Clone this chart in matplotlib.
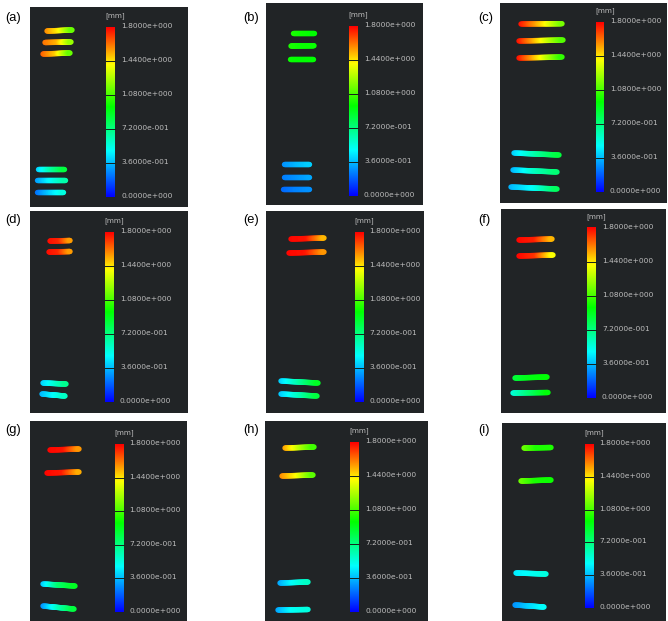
import numpy as np
import matplotlib
matplotlib.use("Agg")
import matplotlib.pyplot as plt
from matplotlib.collections import LineCollection
from matplotlib.colors import LinearSegmentedColormap, Normalize

W, H = 668, 621
tick_values = [0.0, 0.36, 0.72, 1.08, 1.44, 1.8]
tick_labels = ["0.0000e+000", "3.6000e-001", "7.2000e-001",
               "1.0800e+000", "1.4400e+000", "1.8000e+000"]
panel_names = ["(a)", "(b)", "(c)", "(d)", "(e)", "(f)", "(g)", "(h)", "(i)"]

# stroke extents: x start, x end, y start, y end
a_pos = [(47, 72, 31, 30), (45, 71, 42.5, 42), (43, 70, 54, 53), (38, 64, 169, 169), (37, 65, 180, 180), (37, 63, 192, 192)]
b_pos = [(293, 314, 33, 33), (291, 314, 46, 45.7), (290, 313, 59, 59), (284, 309, 164, 164), (284, 309, 177, 177), (283, 309, 189, 189)]
c_pos = [(521, 562, 24, 23.7), (519, 563, 41, 40), (519, 562, 58, 57), (514, 559, 153, 155), (513, 557, 170, 172), (511, 557, 187, 189)]
d_pos = [(50, 70, 241, 240.5), (49, 70, 252, 251.5), (43, 66, 383, 384), (42, 65, 394, 396)]
e_pos = [(291, 324, 239, 238), (289, 324, 253, 252), (281, 318, 381, 383), (281, 317, 394, 396)]
f_pos = [(519, 552, 240, 239), (519, 553, 256, 255), (515, 547, 378, 377), (513, 548, 393, 392.5)]
g_pos = [(50, 79, 450, 449), (47, 79, 473, 472), (43, 75, 584, 586), (43, 74, 606, 609)]
h_pos = [(285, 314, 448, 447), (282, 313, 476, 475), (280, 308, 583, 582), (278, 308, 610, 609.5)]
i_pos = [(524, 551, 448, 447.5), (521, 551, 481, 480), (516, 546, 573, 574), (515, 544, 605, 607)]

# deformation [mm] along each stroke (start, middle, end)
a_val = [(1.58, 1.42, 1.12), (1.62, 1.52, 1.2), (1.65, 1.48, 1.12), (0.4, 0.65, 0.85), (0.3, 0.5, 0.65), (0.22, 0.4, 0.55)]
b_val = [(1.0, 0.97, 0.95), (1.0, 0.97, 0.97), (0.97, 0.95, 0.95), (0.28, 0.35, 0.4), (0.24, 0.28, 0.32), (0.2, 0.25, 0.28)]
c_val = [(1.77, 1.48, 1.15), (1.77, 1.42, 1.08), (1.77, 1.42, 1.02), (0.4, 0.65, 0.85), (0.35, 0.6, 0.75), (0.35, 0.5, 0.8)]
d_val = [(1.78, 1.74, 1.55), (1.78, 1.74, 1.55), (0.4, 0.55, 0.7), (0.35, 0.48, 0.6)]
e_val = [(1.79, 1.77, 1.5), (1.79, 1.77, 1.55), (0.4, 0.65, 0.9), (0.38, 0.6, 0.85)]
f_val = [(1.79, 1.75, 1.5), (1.79, 1.72, 1.38), (0.85, 0.92, 0.95), (0.55, 0.75, 0.95)]
g_val = [(1.79, 1.77, 1.55), (1.79, 1.76, 1.52), (0.38, 0.75, 0.9), (0.28, 0.6, 0.85)]
h_val = [(1.55, 1.3, 1.05), (1.58, 1.4, 1.1), (0.32, 0.5, 0.6), (0.32, 0.5, 0.55)]
i_val = [(1.15, 1.0, 1.0), (1.15, 1.0, 0.97), (0.45, 0.5, 0.55), (0.28, 0.4, 0.5)]

positions = [a_pos, b_pos, c_pos, d_pos, e_pos, f_pos, g_pos, h_pos, i_pos]
values = [a_val, b_val, c_val, d_val, e_val, f_val, g_val, h_val, i_val]

# layout in pixels: panel (x0, x1, y0, y1), bar (x0, x1, y_top, y_bottom), label x, name (x, y)
panel_box = [(30, 188, 7, 207), (266, 423, 3, 205), (500, 667, 3, 203),
             (30, 188, 211, 413), (266, 424, 211, 413), (501, 666, 209, 413),
             (30, 187, 421, 621), (265, 428, 421, 621), (502, 666, 423, 621)]
bar_box = [(106, 115, 27, 197), (349, 358, 26, 196), (596, 604, 22, 192),
           (105, 114, 232, 402), (354.5, 363.5, 232, 402), (587, 596, 228, 398),
           (115, 124, 444, 612), (350, 359, 442, 612), (584.5, 593, 444, 608)]
label_x = [121, 364, 610, 120, 369, 602, 129, 365, 599.5]
name_xy = [(5, 18), (243, 18), (478, 18), (5, 220), (243, 220), (478, 220),
           (5, 430), (243, 430), (478, 430)]

cmap = LinearSegmentedColormap.from_list(
    "fem", [(0.0, "#0000ff"), (0.27, "#00ffff"), (0.53, "#00ff00"),
            (0.78, "#ffff00"), (1.0, "#ff0000")])
norm = Normalize(0, 1.8)
BG = "#212426"
TXT = "#bdbdbd"

fig = plt.figure(figsize=(W / 100, H / 100), dpi=100, facecolor="white")

for k, name in enumerate(panel_names):
    x0, x1, y0, y1 = panel_box[k]
    ax = fig.add_axes([x0 / W, 1 - y1 / H, (x1 - x0) / W, (y1 - y0) / H])
    ax.set_facecolor(BG)
    ax.set_xlim(x0, x1)
    ax.set_ylim(y1, y0)
    ax.set_xticks([])
    ax.set_yticks([])
    for s in ax.spines.values():
        s.set_visible(False)

    # colour scale
    bx0, bx1, bt, bb = bar_box[k]
    grad = np.linspace(1.8, 0, 256).reshape(-1, 1)
    ax.imshow(grad, cmap=cmap, norm=norm, extent=(bx0, bx1, bb, bt),
              aspect="auto", interpolation="bilinear", zorder=2)
    to_y = lambda v: bb + (bt - bb) * v / 1.8
    for v, lab in zip(tick_values, tick_labels):
        if 0 < v < 1.8:
            ax.plot([bx0, bx1], [to_y(v)] * 2, color="#14201a", lw=0.7, zorder=3)
        ax.text(label_x[k], to_y(v) - 1, lab, color=TXT, fontsize=5.4,
                va="center", ha="left", family="DejaVu Sans")
    ax.text(bx0 - 0.5, bt - 11, "[mm]", color=TXT, fontsize=5.2,
            va="center", ha="left", family="DejaVu Sans")

    # measured strokes, coloured along their length
    for (xa, xb, ya, yb), v in zip(positions[k], values[k]):
        t = np.linspace(0, 1, 40)
        xs = xa + (xb - xa) * t
        ys = ya + (yb - ya) * t
        vs = np.interp(t, [0, 0.5, 1], v)
        pts = np.column_stack([xs, ys]).reshape(-1, 1, 2)
        segs = np.concatenate([pts[:-1], pts[1:]], axis=1)
        lc = LineCollection(segs, cmap=cmap, norm=norm, linewidths=3.9,
                            capstyle="round", zorder=4)
        lc.set_array(vs[:-1])
        ax.add_collection(lc)

    fig.text(name_xy[k][0] / W, 1 - name_xy[k][1] / H, name, color="black",
             fontsize=9.3, family="Liberation Sans", va="center", ha="left")

fig.savefig("out.png", dpi=100, facecolor="white")
